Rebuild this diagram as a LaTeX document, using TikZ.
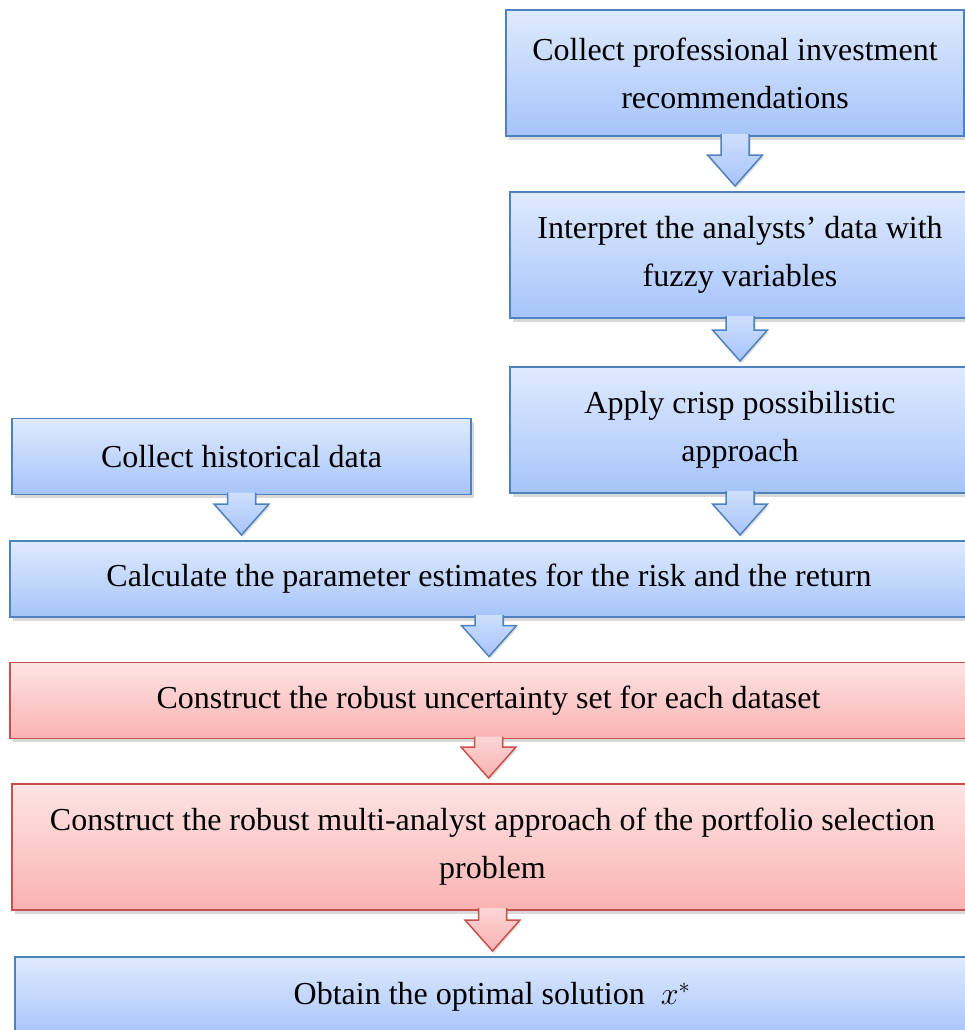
\documentclass[tikz,border=0pt]{standalone}
\usepackage{fix-cm}
\usepackage{fontspec}
\setmainfont{Liberation Serif}
\usetikzlibrary{calc,shadows}

% Office-style colour sets: fill gradient (top/bottom) and outline
\definecolor{bluetop}{RGB}{223,234,253}
\definecolor{bluebot}{RGB}{166,196,250}
\definecolor{blueline}{RGB}{79,129,189}
\definecolor{redtop}{RGB}{253,228,228}
\definecolor{redbot}{RGB}{250,178,178}
\definecolor{redline}{RGB}{200,80,77}

% Block arrow from the bottom of #1 towards the top of #2, in colour set #3
\newcommand\flowarrow[3]{%
  \coordinate (S) at ($(#1.south)+(0,1.8)$);
  \coordinate (T) at ($(#1.south |- #2.north)+(0,6)$);
  \coordinate (H) at ($(T)+(0,31)$);
  \path[top color=#3top!70!#3bot, bottom color=#3bot,
        drop shadow={shadow xshift=1.5pt,shadow yshift=-2pt,opacity=0.25}]
    ($(S)+(-14,0)$) -- ($(H)+(-14,0)$) -- ($(H)+(-27.5,0)$) -- (T)
    -- ($(H)+(27.5,0)$) -- ($(H)+(14,0)$) -- ($(S)+(14,0)$) -- cycle;
  \draw[draw=#3line, line width=1.5pt, line join=miter]
    ($(S)+(-14,0)$) -- ($(H)+(-14,0)$) -- ($(H)+(-27.5,0)$) -- (T)
    -- ($(H)+(27.5,0)$) -- ($(H)+(14,0)$) -- ($(S)+(14,0)$);
}

\begin{document}
\begin{tikzpicture}[x=1pt,y=1pt,
  box/.style 2 args={draw=#1line, line width=1.6pt,
    top color=#1top, bottom color=#1bot,
    minimum width=#2, inner sep=0pt, outer sep=0pt, align=center,
    font=\fontsize{32}{48}\selectfont,
    drop shadow={shadow xshift=2.5pt,shadow yshift=-3.5pt,opacity=0.3}},
  tall/.style={minimum height=126pt},
  short/.style={minimum height=76pt},
]
\useasboundingbox (0,0) rectangle (965,-1030);
\clip (0,0) rectangle (965,-1030);

% steps of the procedure
\node[box={blue}{458pt}, tall] (b1) at (735,-73)
  {Collect professional investment\\recommendations};
\node[box={blue}{460pt}, tall] (b2) at (740,-255)
  {Interpret the analysts’ data with\\fuzzy variables};
\node[box={blue}{460pt}, tall] (b3) at (740,-430)
  {Apply crisp possibilistic\\approach};
\node[box={blue}{459pt}, short] (hist) at (241.5,-456.5)
  {Collect historical data};
\node[box={blue}{958pt}, short] (calc) at (489,-579)
  {Calculate the parameter estimates for the risk and the return};
\node[box={red}{957pt}, short] (unc) at (488.5,-700.5)
  {Construct the robust uncertainty set for each dataset};
\node[box={red}{961pt}, tall] (multi) at (492.5,-847)
  {Construct the robust multi-analyst approach of the portfolio selection\\problem};
\node[box={blue}{954pt}, minimum height=80pt] (obt) at (492,-997)
  {Obtain the optimal solution\ \ $x^{*}$};

% connecting block arrows
\flowarrow{b1}{b2}{blue}
\flowarrow{b2}{b3}{blue}
\flowarrow{hist}{calc}{blue}
\flowarrow{b3}{calc}{blue}
\flowarrow{calc}{unc}{blue}
\flowarrow{unc}{multi}{red}
\flowarrow{multi}{obt}{red}
\end{tikzpicture}
\end{document}
